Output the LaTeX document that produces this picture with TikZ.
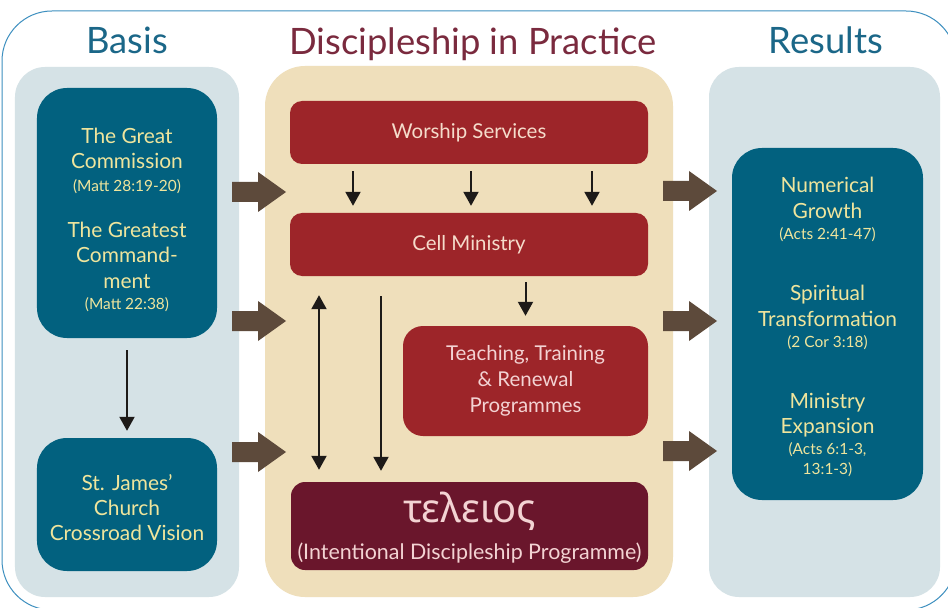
\documentclass[tikz,border=0pt]{standalone}
\usepackage{fontspec}
\setmainfont{Lato}
\newfontfamily\greekfont{Noto Sans}
\usetikzlibrary{arrows.meta,calc}
\definecolor{outerc}{HTML}{3D8FBF}
\definecolor{panelc}{HTML}{D5E2E6}
\definecolor{boxblue}{HTML}{02617F}
\definecolor{yel}{HTML}{EFE59D}
\definecolor{beige}{HTML}{EFDFBB}
\definecolor{redc}{HTML}{9D2529}
\definecolor{maroonc}{HTML}{6A162C}
\definecolor{brownc}{HTML}{5D4A3B}
\definecolor{titleblue}{HTML}{1B6788}
\definecolor{titlemaroon}{HTML}{7A2A3E}
\definecolor{redtext}{HTML}{F5DCCB}
\definecolor{pinktext}{HTML}{F3D3D3}
\definecolor{arrowc}{HTML}{1D1A18}
\newcommand\bt{\fontsize{21}{25.5}\selectfont}
\newcommand\st{\fontsize{15.5}{20}\selectfont}
\newcommand\fatarrow[2]{\fill[brownc] ($(#1)+(0,-10)$) -- ($(#2)+(-28,-10)$) -- ($(#2)+(-28,-20)$) -- (#2) -- ($(#2)+(-28,20)$) -- ($(#2)+(-28,10)$) -- ($(#1)+(0,10)$) -- cycle;}
\tikzset{
  panel/.style={fill=panelc, draw=none, rounded corners=30bp, inner sep=0pt},
  bluebox/.style={fill=boxblue, draw=none, rounded corners=30bp, inner sep=0pt},
  bluetext/.style={inner sep=0pt, text=yel, align=center, font=\bt},
  redbox/.style={fill=redc, draw=none, rounded corners=12bp, inner sep=0pt, text=redtext, align=center, font=\fontsize{20.5}{26}\selectfont},
  titletext/.style={font=\fontsize{36.5}{40}\selectfont, anchor=base},
  blk/.style={draw=arrowc, line width=2bp, -{Triangle[width=15bp,length=14bp]}},
  blkboth/.style={draw=arrowc, line width=2bp, {Triangle[width=15bp,length=14bp]}-{Triangle[width=15bp,length=14bp]}}
}
\begin{document}
\begin{tikzpicture}[x=1bp,y=-1bp]
\useasboundingbox (0,0) rectangle (948,608);
\fill[white] (0,0) rectangle (948,608);
\begin{scope}
\clip (0,0) rectangle (948,608);
\draw[outerc, line width=1bp, rounded corners=50bp] (2,11) rectangle (956,610);
\end{scope}
% panels
\node[panel, minimum width=224bp, minimum height=530bp] (basis) at (127,332) {};
\node[panel, fill=beige, rounded corners=40bp, minimum width=408bp, minimum height=531bp] (practice) at (469,331.5) {};
\node[panel, minimum width=231bp, minimum height=530bp] (results) at (824.5,332) {};
% titles
\node[titletext, text=titleblue] (tbasis) at (127,54) {Basis};
\node[titletext, text=titlemaroon] (tpractice) at (473,55) {Discipleship in Practice};
\node[titletext, text=titleblue] (tresults) at (826,54) {Results};
% basis boxes
\node[bluebox, minimum width=180bp, minimum height=250bp] (great) at (127,213) {};
\node[bluetext] (greattext) at (127,219.5) {The Great\\Commission\\[-2.5bp]{\st (Matt 28:19-20)}\\[20.5bp]The Greatest\\Command-\\ment\\[-4.5bp]{\st (Matt 22:38)}};
\node[bluebox, minimum width=180bp, minimum height=133bp] (vision) at (127,504.5) {};
\node[bluetext] (visiontext) at (127,507.5) {St. James’\\Church\\Crossroad Vision};
% results box
\node[bluebox, minimum width=191bp, minimum height=352bp] (res) at (827.5,324) {};
\node[bluetext] (restext) at (827.5,327) {Numerical\\Growth\\[-4.5bp]{\st (Acts 2:41-47)}\\[36.5bp]Spiritual\\Transformation\\[-4.5bp]{\st (2 Cor 3:18)}\\[35.5bp]Ministry\\Expansion\\[-4.5bp]{\st (Acts 6:1-3,}\\[-5.5bp]{\st 13:1-3)}};
% practice boxes
\node[redbox, minimum width=358bp, minimum height=63bp] (worship) at (469,132.5) {Worship Services};
\node[redbox, minimum width=358bp, minimum height=63bp] (cell) at (469,244.5) {Cell Ministry};
\node[redbox, rounded corners=20bp, text=pinktext, minimum width=245bp, minimum height=110bp] (teach) at (525.5,381) {Teaching, Training\\\& Renewal\\Programmes};
\node[redbox, fill=maroonc, rounded corners=14bp, minimum width=357bp, minimum height=88bp] (teleios) at (469.5,526) {};
\node[inner sep=0pt, text=pinktext, align=center, font=\fontsize{21.5}{37}\selectfont] (teleiostext) at (469.5,528) {{\greekfont\fontsize{40}{40}\selectfont τελειος}\\(Intentional Discipleship Programme)};
% black arrows
\coordinate (c1) at (353,0);
\coordinate (c2) at (471,0);
\coordinate (c3) at (592,0);
\coordinate (c4) at (319,0);
\coordinate (c5) at (381,0);
\draw[blk, shorten <=7bp, shorten >=7bp] (worship.south -| c1) -- (cell.north -| c1);
\draw[blk, shorten <=7bp, shorten >=7bp] (worship.south -| c2) -- (cell.north -| c2);
\draw[blk, shorten <=7bp, shorten >=7bp] (worship.south -| c3) -- (cell.north -| c3);
\draw[blk, shorten <=6bp, shorten >=10bp] (cell.south -| teach.north) -- (teach.north);
\draw[blkboth, shorten <=19bp, shorten >=12bp] (cell.south -| c4) -- (teleios.north -| c4);
\draw[blk, shorten <=20bp, shorten >=11bp] (cell.south -| c5) -- (teleios.north -| c5);
\draw[blk, shorten <=12bp, shorten >=7bp] (great.south) -- (vision.north);
% fat arrows
\coordinate (l1s) at (232,192); \coordinate (l1e) at (286,192);
\coordinate (l2s) at (232,321); \coordinate (l2e) at (286,321);
\coordinate (l3s) at (232,452); \coordinate (l3e) at (286,452);
\coordinate (r1s) at (663,191); \coordinate (r1e) at (717,191);
\coordinate (r2s) at (663,321); \coordinate (r2e) at (717,321);
\coordinate (r3s) at (663,451); \coordinate (r3e) at (717,451);
\fatarrow{l1s}{l1e}
\fatarrow{l2s}{l2e}
\fatarrow{l3s}{l3e}
\fatarrow{r1s}{r1e}
\fatarrow{r2s}{r2e}
\fatarrow{r3s}{r3e}
\end{tikzpicture}
\end{document}
